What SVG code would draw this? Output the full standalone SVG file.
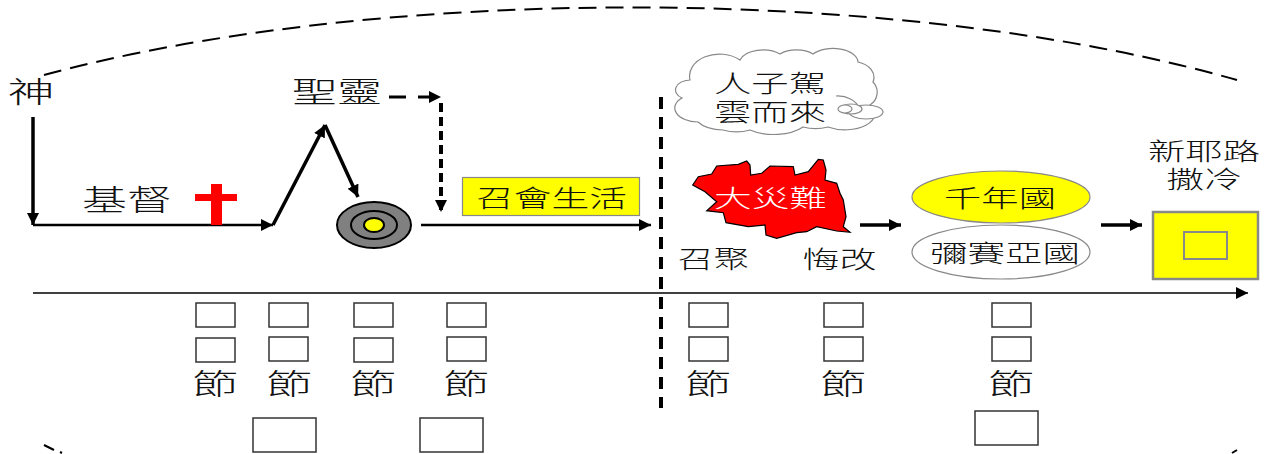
<svg xmlns="http://www.w3.org/2000/svg" width="1272" height="454" viewBox="0 0 1272 454">
<style>
text{font-family:"Liberation Sans","Noto Sans CJK TC","Noto Sans CJK JP",sans-serif;font-weight:300;fill:#111;font-size:29px}
text.s{font-size:24px}
.box{fill:#fff;stroke:#333;stroke-width:1.5}
.line{fill:none;stroke:#000;stroke-width:3.5}
.thin{stroke:#888;stroke-width:1.2}
.ring{stroke:#000;stroke-width:2}
</style>
<defs>
<marker id="a" markerUnits="userSpaceOnUse" markerWidth="14" markerHeight="12" refX="12" refY="6" orient="auto"><path d="M0,0L12,6L0,12Z" fill="#000"/></marker>
</defs>
<rect width="1272" height="454" fill="#fff"/>
<g id="arc" fill="none" stroke="#000" stroke-width="2">
<path d="M44,75A878,263 0 0 1 1237,80" stroke-dasharray="18 9"/>
<path d="M44,445L54,450M60,452L62,453M1232,453L1237,450"/>
</g>
<g id="connectors">
<path class="line" d="M33,117V225" marker-end="url(#a)"/>
<path class="line" d="M33,225H273" marker-end="url(#a)" style="stroke-width:2.5"/>
<path class="line" d="M273,225L325,125" marker-end="url(#a)"/>
<path class="line" d="M325,125L358,197" marker-end="url(#a)"/>
<path fill="none" stroke="#000" stroke-width="3" stroke-dasharray="17 12" d="M389,97H441" marker-end="url(#a)"/>
<path fill="none" stroke="#000" stroke-width="4" stroke-dasharray="9 5" d="M441,103V212" marker-end="url(#a)"/>
<path class="line" d="M421,225H651" marker-end="url(#a)" style="stroke-width:2.5"/>
<path class="line" d="M860,225H901" marker-end="url(#a)"/>
<path class="line" d="M1101,225H1142" marker-end="url(#a)"/>
<path fill="none" stroke="#000" stroke-width="1.5" d="M33,293H1248" marker-end="url(#a)"/>
<path fill="none" stroke="#000" stroke-width="4" stroke-dasharray="12 8" d="M661,97V408"/>
</g>
<g id="god"><text x="7.5" y="103" textLength="47" lengthAdjust="spacingAndGlyphs">神</text></g>
<g id="christ">
<text x="82" y="211" textLength="90" lengthAdjust="spacingAndGlyphs">基督</text>
<path d="M211,184H222V225H211ZM195,194H237V201H195Z" fill="#f00"/>
</g>
<g id="spirit"><text x="292" y="103" textLength="90" lengthAdjust="spacingAndGlyphs">聖靈</text></g>
<g id="target">
<ellipse class="ring" cx="374" cy="225" rx="37" ry="23" fill="#808080"/>
<ellipse class="ring" cx="374" cy="225" rx="23" ry="14" fill="#808080"/>
<ellipse class="ring" cx="374" cy="225" rx="10" ry="7" fill="#ff0"/>
</g>
<g id="church">
<rect x="462.500" y="177.500" width="177" height="38" fill="#ff0" stroke="#888" stroke-width="1.2"/>
<text class="s" x="476" y="207" textLength="151" lengthAdjust="spacingAndGlyphs">召會生活</text>
</g>
<g id="cloud">
<path class="thin" fill="#fff" d="M690,80A30,22 0 0 1 740,60A24,14 0 0 1 780,54A22,12 0 0 1 813,54A25,14 0 0 1 858,62A22,16 0 0 1 873,82A18,16 0 0 1 870,105A30,16 0 0 1 828,127A24,10 0 0 1 803,127A36,18 0 0 1 750,130A24,10 0 0 1 723,130A30,16 0 0 1 698,122A24,14 0 0 1 682,98A16,10 0 0 1 690,80Z"/>
<path class="thin" fill="none" d="M836,96A22,16 0 0 1 859,108"/>
<ellipse class="thin" cx="866" cy="112" rx="17" ry="7" fill="#fff"/>
<ellipse class="thin" cx="851" cy="109" rx="11" ry="5" fill="#fff"/>
<ellipse class="thin" cx="845" cy="109" rx="7" ry="4" fill="#fff"/>
<text class="s"><tspan x="714" y="91.500" textLength="112" lengthAdjust="spacingAndGlyphs">人子駕</tspan><tspan x="714" y="120.500" textLength="112" lengthAdjust="spacingAndGlyphs">雲而來</tspan></text>
</g>
<g id="tribulation">
<path fill="#f00" stroke="#000" stroke-width="1.2" d="M692.7,185L698.3,176.7L711.7,174L716.7,166L738.3,164.3L746.7,161L750,165L750.7,175L761.7,173.3L770,166L793.3,166.7L795,175L808.3,171.7L818.3,159.3L823.3,160L826,170L825,180L836.7,183.3L840,193.3L843.3,200L846,216.7L843.3,226.7L850,232.3L836.7,231L816.7,226.7L806.7,231.7L796.7,232.7L776.7,238.3L766,235L765,225L748.3,226.7L726,222.7L723.3,212.7L706.7,210.7L716.7,201.7L705,191.7Z"/>
<text class="s" x="714" y="206.500" textLength="113" lengthAdjust="spacingAndGlyphs" style="fill:#fff">大災難</text>
</g>
<g id="gather"><text class="s" x="677.500" y="267.500" textLength="72" lengthAdjust="spacingAndGlyphs">召聚</text></g>
<g id="repent"><text class="s" x="802.500" y="267.500" textLength="74" lengthAdjust="spacingAndGlyphs">悔改</text></g>
<g id="millennium">
<ellipse class="thin" cx="1001" cy="197" rx="89" ry="26" fill="#ff0"/>
<text class="s" x="944" y="206.500" textLength="112" lengthAdjust="spacingAndGlyphs">千年國</text>
</g>
<g id="messiah">
<ellipse class="thin" cx="1001" cy="252" rx="89" ry="27" fill="#fff"/>
<text class="s" x="930" y="261.500" textLength="150" lengthAdjust="spacingAndGlyphs">彌賽亞國</text>
</g>
<g id="jerusalem">
<text class="s"><tspan x="1148" y="159.500" textLength="112" lengthAdjust="spacingAndGlyphs">新耶路</tspan><tspan x="1166.500" y="188" textLength="75" lengthAdjust="spacingAndGlyphs">撒冷</tspan></text>
<rect x="1153" y="212" width="105" height="67" fill="#ff0" stroke="#888" stroke-width="2.5"/>
<rect x="1184" y="232" width="43" height="27" fill="#ff0" stroke="#888" stroke-width="2"/>
</g>
<g id="ref1"><rect class="box" x="196" y="303" width="39" height="24"/><rect class="box" x="196" y="338" width="39" height="24"/><text x="192" y="395" textLength="46" lengthAdjust="spacingAndGlyphs">節</text></g>
<g id="ref2"><rect class="box" x="269" y="303" width="39" height="24"/><rect class="box" x="269" y="337" width="39" height="24"/><text x="266" y="395" textLength="46" lengthAdjust="spacingAndGlyphs">節</text></g>
<g id="ref3"><rect class="box" x="354" y="303" width="39" height="24"/><rect class="box" x="354" y="338" width="39" height="24"/><text x="350" y="395" textLength="46" lengthAdjust="spacingAndGlyphs">節</text></g>
<g id="ref4"><rect class="box" x="447" y="303" width="39" height="24"/><rect class="box" x="447" y="337" width="39" height="24"/><text x="443" y="395" textLength="46" lengthAdjust="spacingAndGlyphs">節</text></g>
<g id="ref5"><rect class="box" x="689" y="303" width="39" height="24"/><rect class="box" x="689" y="337" width="39" height="24"/><text x="685" y="395" textLength="46" lengthAdjust="spacingAndGlyphs">節</text></g>
<g id="ref6"><rect class="box" x="824" y="303" width="39" height="24"/><rect class="box" x="824" y="337" width="39" height="24"/><text x="820" y="395" textLength="46" lengthAdjust="spacingAndGlyphs">節</text></g>
<g id="ref7"><rect class="box" x="992" y="303" width="39" height="24"/><rect class="box" x="992" y="337" width="39" height="24"/><text x="988" y="395" textLength="46" lengthAdjust="spacingAndGlyphs">節</text></g>
<g id="blank1"><rect class="box" x="253" y="418" width="63" height="34"/></g>
<g id="blank2"><rect class="box" x="420" y="418" width="63" height="34"/></g>
<g id="blank3"><rect class="box" x="975" y="411" width="63" height="34"/></g>
</svg>
